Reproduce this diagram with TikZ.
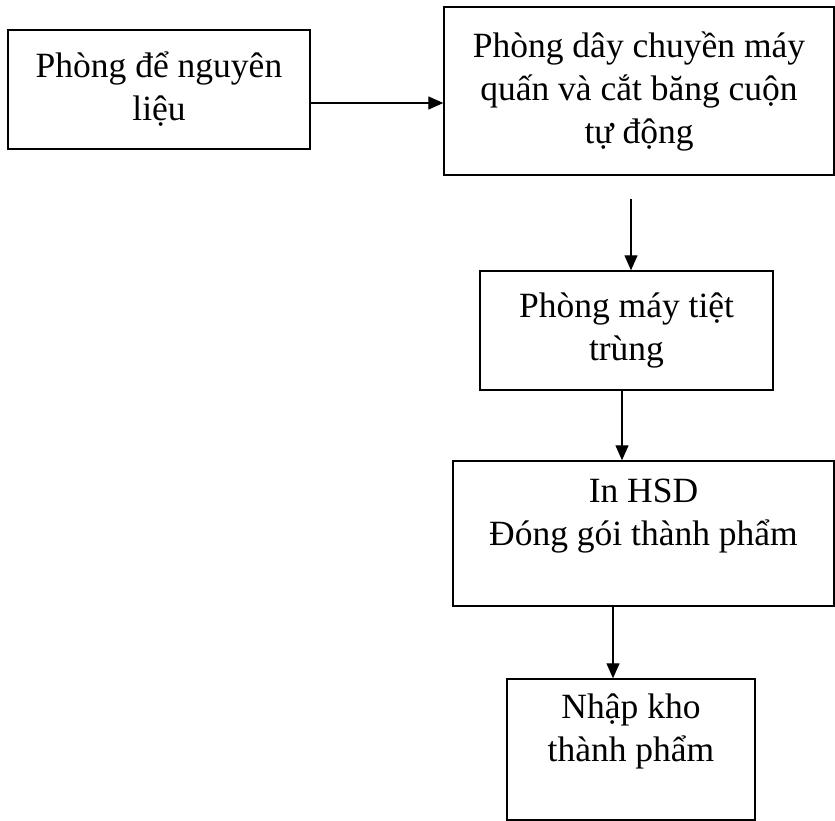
\documentclass[tikz,border=0pt]{standalone}
\usepackage{fontspec}
\setmainfont{Liberation Serif}
\usetikzlibrary{arrows.meta}

\begin{document}
\begin{tikzpicture}
	[x=1pt, y=-1pt,
	 room/.style={rectangle, draw, line width=1.4pt, align=center, inner sep=0pt, font=\fontsize{35.5}{43}\selectfont},
	 flow/.style={line width=1.3pt, -{Triangle[length=15pt, width=13pt]}}]
	\useasboundingbox (0,0) rectangle (835,821);
	\node[room, minimum width=302pt, minimum height=119pt] (kho) at (159,89.5) {Phòng để nguyên\\liệu};
	\node[room, minimum width=390pt, minimum height=168pt] (quan) at (639,91) {Phòng dây chuyền máy\\quấn và cắt băng cuộn\\tự động};
	\node[room, minimum width=293pt, minimum height=119pt] (tiet) at (626.5,330.5) {Phòng máy tiệt\\trùng};
	\node[room, minimum width=381pt, minimum height=145pt] (dong) at (643.5,533.5) {In HSD\\Đóng gói thành phẩm\\ ~};
	\node[room, minimum width=248pt, minimum height=141pt] (nhap) at (631,749.5) {Nhập kho\\thành phẩm\\ ~};
	\coordinate (q) at (631,199);
	\draw[flow] ([yshift=-13.5pt]kho.east) -- ([yshift=-13.5pt]kho.east -| quan.west);
	\draw[flow] (q) -- (q |- tiet.north);
	\draw[flow] ([xshift=-4.5pt]tiet.south) -- ([xshift=-4.5pt]tiet.south |- dong.north);
	\draw[flow] ([xshift=-30.5pt]dong.south) -- ([xshift=-30.5pt]dong.south |- nhap.north);
\end{tikzpicture}
\end{document}
